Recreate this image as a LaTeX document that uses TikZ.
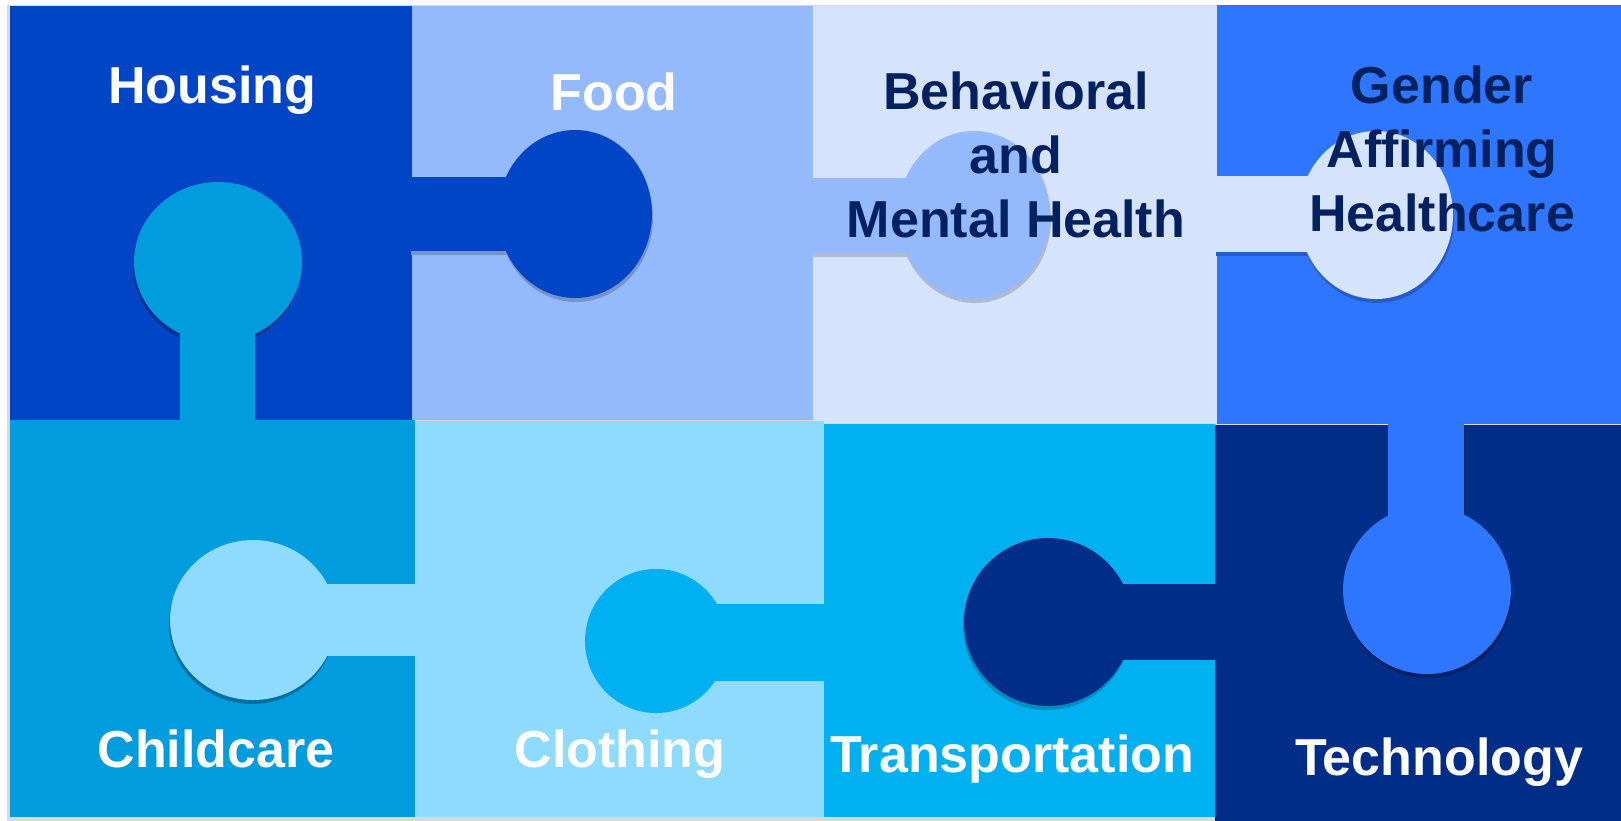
\documentclass[tikz,border=0pt]{standalone}
\usepackage{fontspec}
\setmainfont{Liberation Sans}
\usepackage{tikz}
\definecolor{hous}{HTML}{0045C5}
\definecolor{food}{HTML}{95B9FD}
\definecolor{behav}{HTML}{D5E3FD}
\definecolor{gend}{HTML}{2F76FF}
\definecolor{child}{HTML}{009CDE}
\definecolor{cloth}{HTML}{8EDBFF}
\definecolor{trans}{HTML}{00B0F0}
\definecolor{tech}{HTML}{002D87}
\definecolor{navy}{HTML}{03215F}

\begin{document}
\begin{tikzpicture}[x=0.5pt,y=-0.5pt,
    lbl/.style={anchor=north,inner sep=0pt,align=center,font=\bfseries\fontsize{26}{32}\selectfont}]
    \useasboundingbox (0,0) rectangle (1621,820);
    \fill[white] (0,0) rectangle (1621,820);
    \fill[black!15] (7,5) rectangle (1630,830);
    % blocks, top row then bottom row
    \fill[hous] (10,6) rectangle (412,420);
    \fill[food] (412,6) rectangle (814,420);
    \fill[behav] (813,6) rectangle (1217,423);
    \fill[gend] (1217,5) rectangle (1630,424);
    \fill[child] (10,420) rectangle (415,817);
    \fill[cloth] (415,421) rectangle (824,817);
    \fill[trans] (824,424) rectangle (1215,817);
    \fill[tech] (1215,425) rectangle (1630,830);
    % knob housing -> food
    \fill[food!80!black,shift={(1,4)}] (410,177) rectangle (560,251);
    \fill[food!80!black,shift={(1,4)}] (575,214) ellipse[x radius=77,y radius=84];
    \fill[hous] (410,177) rectangle (560,251);
    \fill[hous] (575,214) ellipse[x radius=77,y radius=84];
    % knob childcare -> housing
    \fill[hous!72!black,shift={(-1,4)}] (218,262) ellipse[x radius=84,y radius=80];
    \fill[child] (180,300) rectangle (255,422);
    \fill[child] (218,262) ellipse[x radius=84,y radius=80];
    % knob food -> behavioral
    \fill[behav!82!black,shift={(1,4)}] (812,178) rectangle (960,253);
    \fill[behav!82!black,shift={(1,4)}] (974,215) ellipse[x radius=76,y radius=84];
    \fill[food] (812,178) rectangle (960,253);
    \fill[food] (974,215) ellipse[x radius=76,y radius=84];
    % knob behavioral -> gender
    \fill[gend!78!black,shift={(1,4)}] (1215,176) rectangle (1360,252);
    \fill[gend!78!black,shift={(1,4)}] (1376,215) ellipse[x radius=77,y radius=84];
    \fill[behav] (1215,176) rectangle (1360,252);
    \fill[behav] (1376,215) ellipse[x radius=77,y radius=84];
    % knob gender -> technology
    \fill[tech!75!black,shift={(1,4)}] (1388,422) rectangle (1464,560);
    \fill[tech!75!black,shift={(1,4)}] (1427,590) ellipse[x radius=84,y radius=84];
    \fill[gend] (1388,422) rectangle (1464,560);
    \fill[gend] (1427,590) ellipse[x radius=84,y radius=84];
    % knob technology -> transportation
    \fill[trans!80!black,shift={(-1,4)}] (1048,622) ellipse[x radius=84,y radius=84];
    \fill[tech] (1000,584) rectangle (1217,660);
    \fill[tech] (1048,622) ellipse[x radius=84,y radius=84];
    % knob transportation -> clothing
    \fill[trans] (640,604) rectangle (826,681);
    \fill[trans] (656,641) ellipse[x radius=71,y radius=72];
    % knob clothing -> childcare
    \fill[child!72!black,shift={(-1,4)}] (253,620) ellipse[x radius=83,y radius=80];
    \fill[cloth] (240,584) rectangle (417,656);
    \fill[cloth] (253,620) ellipse[x radius=83,y radius=80];
    % labels
    \node[lbl,white] (housing) at (212,65) {Housing};
    \node[lbl,white] (food) at (614,72) {Food};
    \node[lbl,navy] (behavioral) at (1016,71) {Behavioral\\and\\Mental Health};
    \node[lbl,navy] (gender) at (1442,65) {Gender\\Affirming\\Healthcare};
    \node[lbl,white] (childcare) at (216,729) {Childcare};
    \node[lbl,white] (clothing) at (620,729) {Clothing};
    \node[lbl,white] (transport) at (1012,734) {Transportation};
    \node[lbl,white] (technology) at (1439,737) {Technology};
\end{tikzpicture}
\end{document}
